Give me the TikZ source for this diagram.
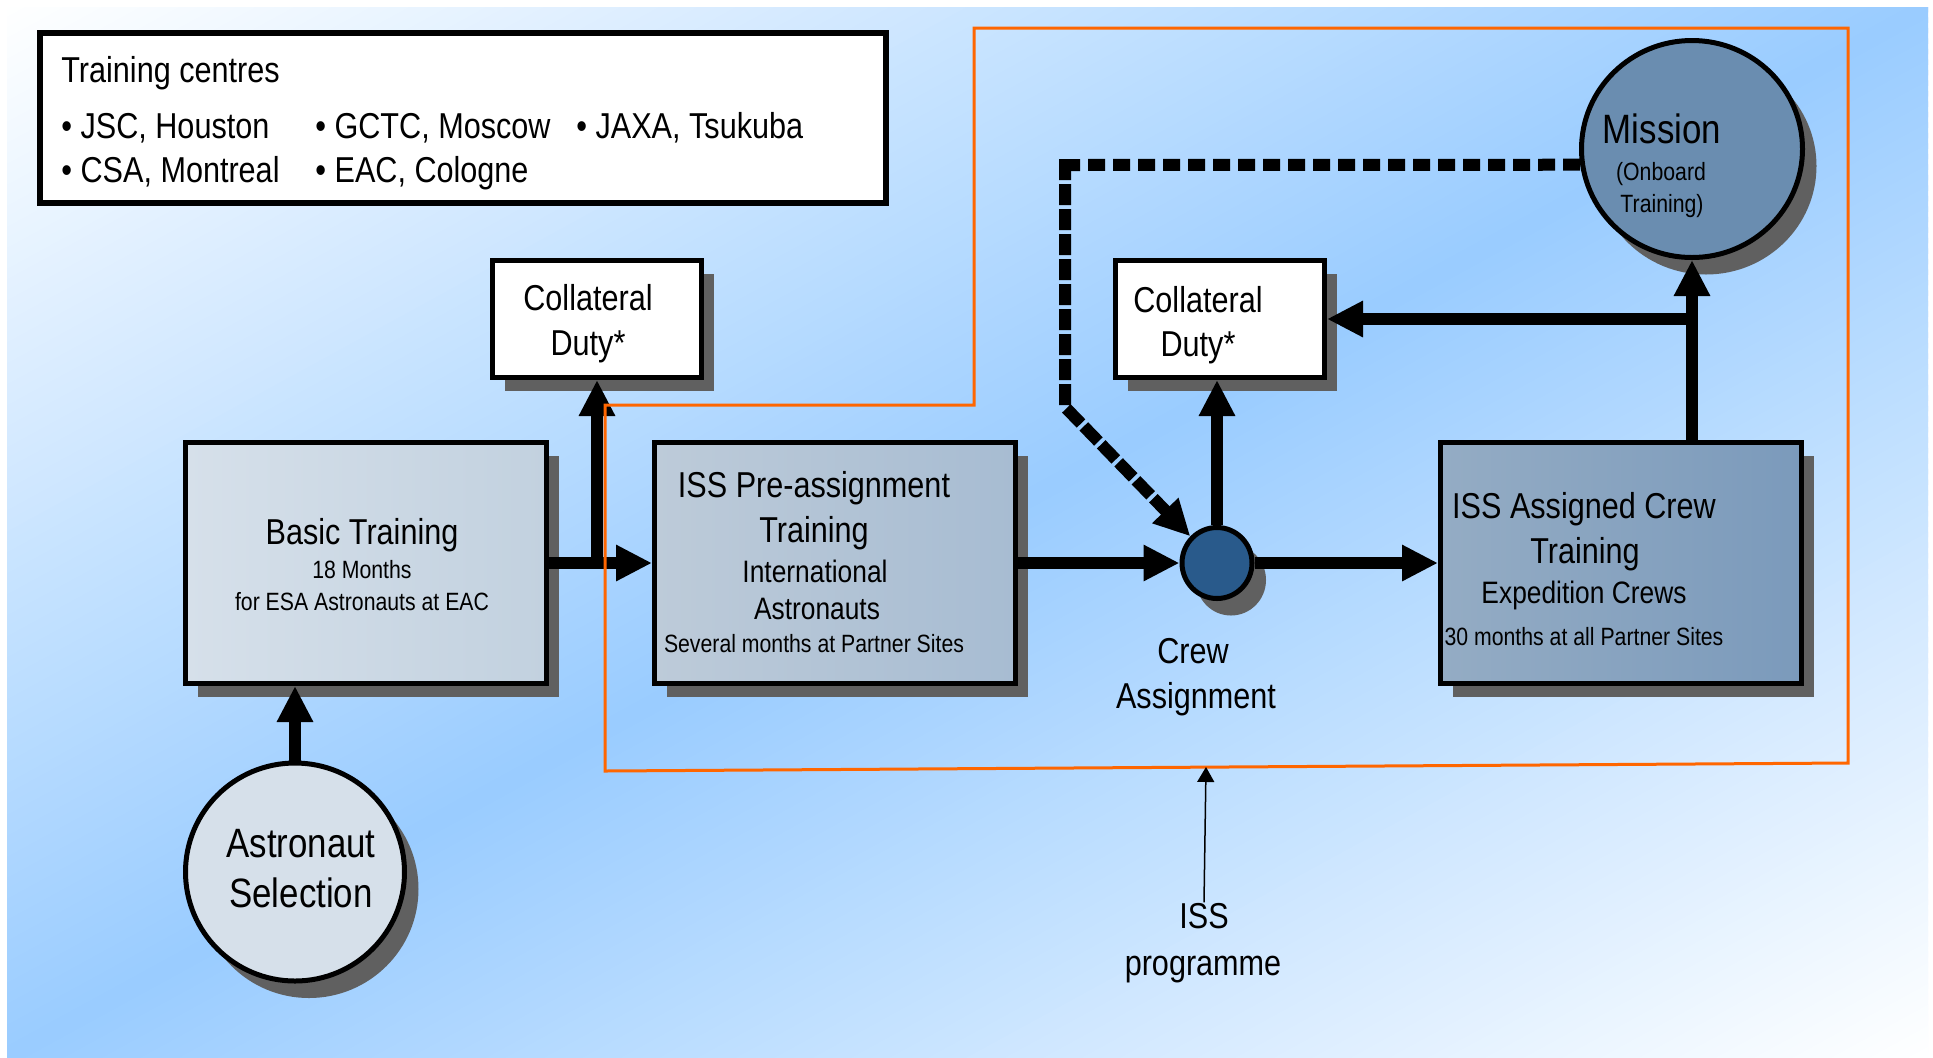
\documentclass[tikz,border=0pt]{standalone}
\usepackage{fontspec}
\setmainfont{Liberation Sans}[FakeStretch=0.85]
\usetikzlibrary{arrows.meta,shapes.geometric,shadows}

\definecolor{bgblue}{HTML}{99CCFF}
\definecolor{shadowgray}{HTML}{606060}
\definecolor{basicL}{HTML}{D6E0EA}
\definecolor{basicR}{HTML}{C2D1DF}
\definecolor{preL}{HTML}{BDCBD9}
\definecolor{preR}{HTML}{A7BCD2}
\definecolor{asgL}{HTML}{94ACC4}
\definecolor{asgR}{HTML}{7B9ABB}
\definecolor{missionfill}{HTML}{6A8DB0}
\definecolor{crewfill}{HTML}{295A8B}
\definecolor{astrofill}{HTML}{D6E0EA}
\definecolor{frameorange}{HTML}{FF6600}

\tikzset{
  txt/.style={inner sep=0pt, anchor=base, text=black},
  fbig/.style={txt, font=\fontsize{18}{20}\selectfont},
  fhuge/.style={txt, font=\fontsize{20.5}{23}\selectfont},
  fmid/.style={txt, font=\fontsize{15.5}{18}\selectfont},
  fsmall/.style={txt, font=\fontsize{12.5}{15}\selectfont},
  boxbase/.style={draw=black, line width=2.5pt, rectangle, inner sep=0pt},
  boxshadow/.style={drop shadow={shadow xshift=6pt, shadow yshift=-6.5pt, opacity=1, fill=shadowgray}},
  roundshadow/.style={drop shadow={shadow xshift=7pt, shadow yshift=-8.5pt, opacity=1, fill=shadowgray}},
  legendbox/.style={boxbase, line width=3pt, fill=white, minimum width=423pt, minimum height=85pt},
  trainbox/.style={boxbase, boxshadow, minimum width=180.5pt, minimum height=120.5pt},
  dutybox/.style={boxbase, boxshadow, fill=white, minimum width=104.5pt, minimum height=58.5pt},
  stagecircle/.style={ellipse, draw=black, line width=2.5pt, inner sep=0pt, roundshadow},
  flowarrow/.style={line width=6pt, -{Triangle[length=18pt,width=17pt]}},
  feedbackH/.style={line width=6pt, dash pattern=on 8.5pt off 4pt},
  feedbackV/.style={line width=6pt, dash pattern=on 10.5pt off 2pt, -{Triangle[length=18pt,width=17pt]}},
  frame/.style={draw=frameorange, line width=1.5pt},
  notearrow/.style={line width=0.75pt, -{Triangle[length=7.5pt,width=8.5pt]}},
}

\begin{document}
\begin{tikzpicture}[x=0.5pt,y=-0.5pt]
\useasboundingbox (0,0) rectangle (1933,1057);
\fill[white] (0,0) rectangle (1933,1057);

% diagonal background gradient: white -> blue -> white
\begin{scope}
  \clip (7,7) rectangle (1928,1057);
  \foreach \i in {0,...,199}{
    \pgfmathsetmacro\fa{\i/100}
    \pgfmathsetmacro\fb{(\i+1.5)/100}
    \pgfmathsetmacro\mix{100-abs(100-(\i+0.5))}
    \fill[bgblue!\mix!white] ({7+(\fa+1)*1921},-1043) -- ({7+(\fb+1)*1921},-1043)
      -- ({7+(\fb-2)*1921},2107) -- ({7+(\fa-2)*1921},2107) -- cycle;
  }
\end{scope}

% legend of training centres
\node[legendbox] (centres) at (463,118) {};
\node[fbig, anchor=base west] (tctitle) at (61,82) {Training centres};
\node[fbig, anchor=base west] (jsc) at (61,138) {• JSC, Houston};
\node[fbig, anchor=base west] (gctc) at (315,138) {• GCTC, Moscow};
\node[fbig, anchor=base west] (jaxa) at (576,138) {• JAXA, Tsukuba};
\node[fbig, anchor=base west] (csa) at (61,182) {• CSA, Montreal};
\node[fbig, anchor=base west] (eac) at (315,182) {• EAC, Cologne};

% stages
\node[trainbox, left color=basicL, right color=basicR] (basic) at (366,563) {};
\node[trainbox, left color=preL, right color=preR] (pre) at (835,563) {};
\node[trainbox, left color=asgL, right color=asgR] (assigned) at (1621,563) {};
\node[dutybox] (dutyL) at (597,319) {};
\node[dutybox] (dutyR) at (1220,319) {};
\node[stagecircle, fill=astrofill, minimum width=109.5pt, minimum height=109pt] (astro) at (295,872) {};
\node[stagecircle, fill=missionfill, minimum width=110.5pt, minimum height=108.5pt] (mission) at (1692,149) {};
\node[stagecircle, fill=crewfill, minimum width=35pt, minimum height=35.5pt] (crew) at (1217,563) {};

% labels
\node[fbig] (basicA) at (362,544) {Basic Training};
\node[fsmall] (basicB) at (362,578) {18 Months};
\node[fsmall] (basicC) at (362,610) {for ESA Astronauts at EAC};

\node[fbig] (preA) at (814,497) {ISS Pre-assignment};
\node[fbig] (preB) at (814,542) {Training};
\node[fmid] (preC) at (815,582) {International};
\node[fmid] (preD) at (817,619) {Astronauts};
\node[fsmall] (preE) at (814,652) {Several months at Partner Sites};

\node[fbig] (asgA) at (1584,518) {ISS Assigned Crew};
\node[fbig] (asgB) at (1585,563) {Training};
\node[fmid] (asgC) at (1584,603) {Expedition Crews};
\node[fsmall] (asgD) at (1584,645) {30 months at all Partner Sites};

\node[fhuge] (misA) at (1662,143) {Mission};
\node[fsmall] (misB) at (1661,180) {(Onboard};
\node[fsmall] (misC) at (1662,212) {Training)};

\node[fbig] (crewA) at (1193,663) {Crew};
\node[fbig] (crewB) at (1196,708) {Assignment};

\node[fbig] (dutyLA) at (588,310) {Collateral};
\node[fbig] (dutyLB) at (588,355) {Duty*};
\node[fbig] (dutyRA) at (1198,312) {Collateral};
\node[fbig] (dutyRB) at (1198,356) {Duty*};

\node[fhuge] (astroA) at (301,857) {Astronaut};
\node[fhuge] (astroB) at (301,907) {Selection};

\node[fbig] (issA) at (1204,928) {ISS};
\node[fbig] (issB) at (1203,975) {programme};

% main flow
\draw[flowarrow] (astro.north) -- (astro.north |- basic.south);
\draw[flowarrow] (basic.east) -- (pre.west);
\draw[flowarrow] (basic.east -| dutyL.south) -- (dutyL.south);
\draw[flowarrow] (pre.east) -- (crew.west);
\draw[flowarrow] (crew.east) -- (assigned.west);
\draw[flowarrow] (crew.north) -- (crew.north |- dutyR.south);
\draw[flowarrow] (mission.south |- assigned.north) -- (mission.south);
\draw[flowarrow] (mission.south |- dutyR.east) -- (dutyR.east);

% onboard feedback to the next assignment
\coordinate (fbtop) at (1065,165);
\coordinate (fbstart) at (1065,159);
\coordinate (fbbend) at (1065,407);
\draw[feedbackH] (mission.188) -- (fbtop);
\draw[feedbackV] (fbstart) -- (fbbend) -- (crew.135);

% ISS programme frame
\draw[frame] (974,28) -- (1848,28) -- (1848,763) -- (605,771) -- (605,405) -- (974,405) -- cycle;
\coordinate (frameedge) at (1206,767);
\draw[notearrow] (issA.north) -- (frameedge);
\end{tikzpicture}
\end{document}
